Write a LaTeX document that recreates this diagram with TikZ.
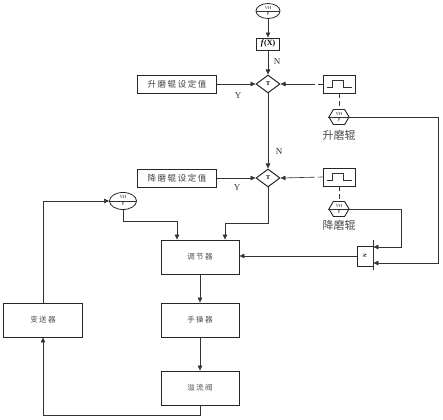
\documentclass[tikz,border=0pt]{standalone}
\usepackage{fontspec}
\setmainfont{Liberation Serif}
\newfontfamily\cjk{Noto Sans CJK SC}
\newfontfamily\cjkw[LetterSpace=18]{Noto Sans CJK SC}
\usetikzlibrary{arrows.meta,shapes.geometric,shapes.symbols,calc}
\begin{document}
\begin{tikzpicture}[x=1pt,y=-1pt,
  ln/.style={draw=black!80,line width=0.6pt},
  arr/.style={ln,-{Triangle[length=5pt,width=4.5pt]}},
  bigbox/.style={draw=black!85,line width=0.9pt,minimum width=78pt,minimum height=34pt,inner sep=0pt,font=\cjkw\fontsize{7.5}{8}\selectfont,text=black!70},
  setbox/.style={draw=black!85,line width=0.9pt,minimum width=79pt,minimum height=18pt,inner sep=0pt,font=\cjkw\fontsize{8.5}{9}\selectfont,text=black!75},
  pulsebox/.style={draw=black!85,line width=0.8pt,minimum width=32pt,minimum height=18pt,inner sep=0pt},
  dia/.style={diamond,draw=black!85,line width=1pt,minimum width=24pt,minimum height=18pt,inner sep=0pt,font=\fontsize{6}{6}\selectfont\bfseries},
  hexa/.style={signal,signal to=west and east,signal pointer angle=120,draw=black!85,line width=0.9pt,minimum width=20pt,minimum height=15pt,inner sep=0pt},
  ell/.style={ellipse,draw=black!85,line width=0.8pt,inner sep=0pt},
  tinytxt/.style={font=\fontsize{4.5}{4.5}\selectfont,inner sep=0pt,text=black!85},
  lbl/.style={font=\fontsize{9}{10}\selectfont,text=black!80,inner sep=0pt},
  cjklbl/.style={font=\cjk\fontsize{11}{12}\selectfont,text=black!70,inner sep=0pt},
  dsh/.style={ln,dash pattern=on 5pt off 3pt}
]
\useasboundingbox (0,0) rectangle (443,419);

% top ellipse and f(x)
\node[ell,minimum width=24pt,minimum height=15pt] (e1) at (268,11) {};
\draw[ln,line width=0.4pt] (e1.west) -- (e1.east);
\node[tinytxt] (e1t) at (268,8) {VH};
\node[tinytxt] (e1b) at (268,14) {P};
\node[draw=black!85,line width=0.9pt,minimum width=23pt,minimum height=12pt,inner sep=0pt,font=\fontsize{8}{8}\selectfont\bfseries] (fx) at (268,44) {\textit{f}(X)};

% diamonds
\node[dia] (d1) at (268,84) {T};
\node[dia] (d2) at (268,178) {T};

% set value boxes
\node[setbox] (s1) at (177,84) {升磨辊设定值};
\node[setbox] (s2) at (177,178) {降磨辊设定值};

% pulse boxes
\node[pulsebox] (p1) at (339,84) {};
\node[pulsebox] (p2) at (339,177) {};
\foreach \p in {p1,p2}{
  \draw[ln,line width=0.7pt] (\p.center) ++(-12,3) -- ++(5,0) -- ++(0,-7) -- ++(11,0) -- ++(0,7) -- ++(9,0);
}

% hexagons
\node[hexa] (h1) at (339,117) {};
\node[hexa] (h2) at (339,209) {};
\foreach \h in {h1,h2}{
  \draw[ln,line width=0.4pt] (\h.west) -- (\h.east);
  \node[tinytxt] (\h t) at ($(\h.center)+(0,-3.2)$) {VH};
  \node[tinytxt] (\h b) at ($(\h.center)+(0,3.2)$) {P};
}
\node[cjklbl] (l1) at (339,135) {升磨辊};
\node[cjklbl] (l2) at (339,225) {降磨辊};

% N box with bar
\node[draw=black!85,line width=0.8pt,minimum width=16pt,minimum height=20pt,inner sep=0pt,font=\fontsize{5}{5}\selectfont\bfseries] (nb) at (365,256) {\rotatebox{90}{N}};
\draw[ln,line width=0.8pt] ([yshift=16pt]nb.east) -- ([yshift=-14pt]nb.east);

% left ellipse
\node[ell,minimum width=27pt,minimum height=17pt] (e3) at (123,201) {};
\draw[ln,line width=0.4pt] (e3.west) -- (e3.east);
\node[tinytxt] (e3t) at (123,197.5) {VH};
\node[tinytxt] (e3b) at (123,204.5) {P};

% main boxes
\node[bigbox] (tj) at (200,257) {调节器};
\node[bigbox] (sc) at (200,320) {手操器};
\node[bigbox] (yl) at (200,388) {溢流阀};
\node[bigbox,minimum width=79pt] (bs) at (43,320) {变送器};

% connectors
\draw[arr] (e1) -- (fx);
\draw[arr] (fx) -- (d1);
\node[lbl] (n1) at (277,62) {N};
\draw[arr] (s1) -- (d1);
\node[lbl] (y1) at (238,96) {Y};
\draw[arr,dash pattern=on 5pt off 3pt on 60pt] (p1.west) -- (d1.east);
\draw[dsh] (p1.south) -- (h1.north);
\coordinate (r1) at (438,117);
\draw[arr] (h1.east) -- (r1) |- ([yshift=-7pt]nb.east);

\draw[arr] (d1) -- (d2);
\node[lbl] (n2) at (279,152) {N};
\draw[arr] (s2) -- (d2);
\node[lbl] (y2) at (237,188) {Y};
\draw[arr,dash pattern=on 5pt off 3pt on 60pt] (p2.west) -- (d2.east);
\draw[dsh] (p2.south) -- (h2.north);
\draw[arr] (h2.east) -| ([xshift=28pt,yshift=9pt]nb.east) -- ([yshift=9pt]nb.east);

\draw[arr] (nb.west) -- (nb.west -| tj.east);
\draw[arr] (d2.south) -- ++(0,36) -| ([xshift=25pt]tj.north);
\draw[arr] (e3.south) -- ++(0,11) -| ([xshift=-23pt]tj.north);
\draw[arr] (bs.north) |- (e3.west);
\draw[arr] (tj) -- (sc);
\draw[arr] (sc) -- (yl);
\draw[arr] (yl.south) -- ++(0,10) -| (bs.south);
\end{tikzpicture}
\end{document}
